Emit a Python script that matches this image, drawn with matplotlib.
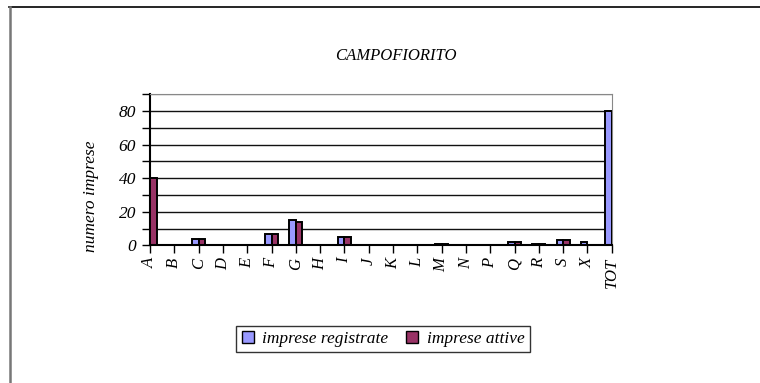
import matplotlib
matplotlib.use("Agg")
import matplotlib.pyplot as plt
import numpy as np
from matplotlib.lines import Line2D
from matplotlib.patches import Patch

categories = ["A", "B", "C", "D", "E", "F", "G", "H", "I", "J", "K", "L",
              "M", "N", "P", "Q", "R", "S", "X", "TOT"]
registrate = [40, 0, 4, 0, 0, 7, 15, 0, 5, 0, 0, 0, 1, 0, 0, 2, 1, 3, 2, 80]
attive = [40, 0, 4, 0, 0, 7, 14, 0, 5, 0, 0, 0, 1, 0, 0, 2, 1, 3, 0, 77]
series_names = ["imprese registrate", "imprese attive"]
colors = ["#9999FF", "#993366"]
title = "CAMPOFIORITO"
ylabel = "numero imprese"

plt.rcParams['font.family'] = ['Liberation Serif', 'DejaVu Serif']
plt.rcParams['font.style'] = 'italic'

W, H = 760, 383
fig = plt.figure(figsize=(W / 100, H / 100), dpi=100)
ax = fig.add_axes([150 / W, 1 - 245.3 / H, (611.7 - 150) / W, (245.3 - 94.3) / H])

x = np.arange(len(categories))
bw = 0.27
ax.bar(x - bw / 2, registrate, bw, color=colors[0], edgecolor="black", linewidth=1.4, zorder=3)
ax.bar(x + bw / 2, attive, bw, color=colors[1], edgecolor="black", linewidth=1.4, zorder=3)

ax.set_xlim(0, len(categories) - 1)
ax.set_ylim(0, 90)
ax.set_yticks(np.arange(0, 81, 20))
ax.set_yticks(np.arange(10, 91, 20), minor=True)
ax.set_xticks(x)
ax.set_xticklabels(categories, rotation=90, fontsize=12, style='italic')
ax.tick_params(axis='y', which='both', length=6, width=1, labelsize=12.5, pad=4, direction='out')
ax.tick_params(axis='x', length=6, width=1, pad=3, direction='out')
for t in ax.get_yticklabels():
    t.set_fontstyle('italic')

for v in range(10, 91, 10):
    ax.axhline(v, color="#111111" if v < 90 else "#888888", linewidth=1.0, zorder=1)

ax.spines['left'].set_linewidth(1.5)
ax.spines['bottom'].set_linewidth(1.5)
ax.spines['top'].set_color('#888888')
ax.spines['right'].set_color('#888888')
ax.spines['bottom'].set_zorder(4)

fig.text(396 / W, 1 - 56 / H, title, ha='center', va='center', fontsize=12, style='italic')
fig.text(91 / W, 1 - 196 / H, ylabel, ha='center', va='center', rotation=90, fontsize=12.5, style='italic')

handles = [Patch(facecolor=colors[0], edgecolor='black', linewidth=1),
           Patch(facecolor=colors[1], edgecolor='black', linewidth=1)]
leg = fig.legend(handles, series_names, loc='center', bbox_to_anchor=(383 / W, 1 - 339 / H),
                 ncol=2, fontsize=12.5, frameon=True, fancybox=False, handlelength=0.7,
                 handleheight=0.7, handletextpad=0.5, columnspacing=1.0, borderpad=0.3)
leg.get_frame().set_edgecolor('black')
leg.get_frame().set_linewidth(1.0)
for t in leg.get_texts():
    t.set_fontstyle('italic')

# outer frame
fig.add_artist(Line2D([9 / W, 1], [1 - 7 / H, 1 - 7 / H], color='black', linewidth=1.2, transform=fig.transFigure))
fig.add_artist(Line2D([10 / W, 10 / W], [0, 1 - 7 / H], color='#777777', linewidth=1.8, transform=fig.transFigure))

fig.savefig("out.png", dpi=100)
